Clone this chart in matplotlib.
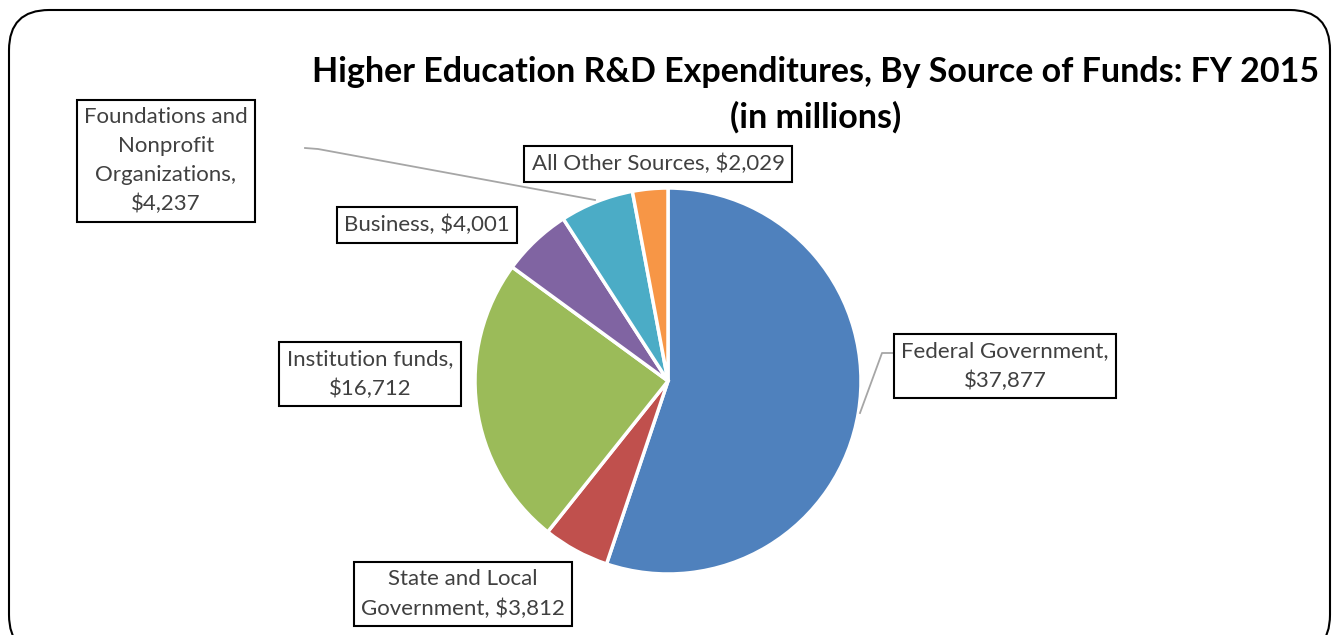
import matplotlib
matplotlib.use("Agg")
import matplotlib.pyplot as plt
from matplotlib.patches import FancyBboxPatch

# values (millions of dollars)
sources = ['Federal Government', 'State and Local Government', 'Institution funds',
           'Business', 'Foundations and Nonprofit Organizations', 'All Other Sources']
amounts = [37877, 3812, 16712, 4001, 4237, 2029]
label_texts = ['Federal Government,\n$37,877', 'State and Local\nGovernment, $3,812',
               'Institution funds,\n$16,712', 'Business, $4,001',
               'Foundations and\nNonprofit\nOrganizations,\n$4,237',
               'All Other Sources, $2,029']
colors = ['#4F81BD', '#C0504D', '#9BBB59', '#8064A2', '#4BACC6', '#F79646']

W, H = 1339, 635
txt_color = '#404040'
font = 'Lato'

fig = plt.figure(figsize=(W / 100, H / 100), dpi=100)
ax = fig.add_axes([0, 0, 1, 1])

# rounded chart border
fig.patches.append(FancyBboxPatch((9 / W, -20 / H), 1321 / W, 645 / H,
                                  boxstyle='round,pad=0,rounding_size=0.03',
                                  transform=fig.transFigure, fill=False,
                                  edgecolor='black', linewidth=1.5,
                                  mutation_aspect=W / H))

cx, cy, r = 668, H - 381, 193
ax.pie(amounts, colors=colors, startangle=90, counterclock=False,
       center=(cx, cy), radius=r, frame=True,
       wedgeprops=dict(edgecolor='white', linewidth=2.5))
ax.set_xlim(0, W)
ax.set_ylim(0, H)
ax.set_aspect('auto')
ax.axis('off')

# label positions in pixels (top-left origin)
label_pos = [(1005, 366), (463, 594), (370, 374), (427, 225), (166, 161), (658, 164)]
box = dict(boxstyle='square,pad=0.33', facecolor='white', edgecolor='black', linewidth=1.5)
for t, (x, y) in zip(label_texts, label_pos):
    ax.text(x, H - y, t, ha='center', va='center', fontsize=16, color=txt_color,
            family=font, linespacing=1.55, bbox=box)

# leader lines
ax.plot([860, 882, 893], [H - 413, H - 353, H - 353], color='#A6A6A6', lw=1.3)
ax.plot([305, 318, 595], [H - 148, H - 149, H - 200], color='#A6A6A6', lw=1.3)

ax.text(816, H - 72, 'Higher Education R&D Expenditures, By Source of Funds: FY 2015',
        ha='center', va='center', fontsize=24.5, fontweight='bold', family=font, color='black')
ax.text(816, H - 117, '(in millions)', ha='center', va='center', fontsize=24.5,
        fontweight='bold', family=font, color='black')

fig.savefig('out.png', dpi=100)
